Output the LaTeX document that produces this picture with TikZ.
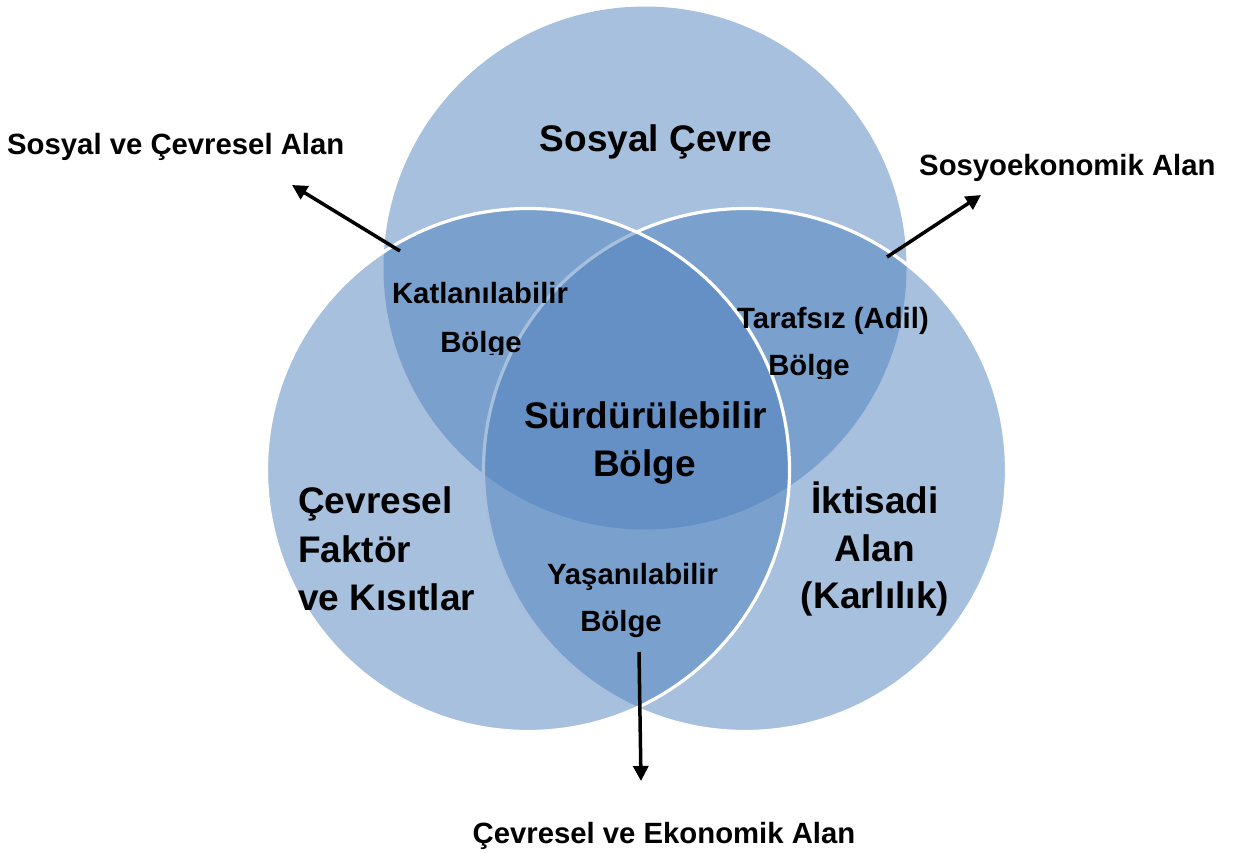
\documentclass[tikz,border=0pt]{standalone}
\usepackage{fontspec}
\setmainfont{Liberation Sans}
\usetikzlibrary{arrows.meta}
\definecolor{vennblue}{RGB}{79,129,189}
\begin{document}
\begin{tikzpicture}[x=1pt,y=-1pt,
  venn/.style={circle,inner sep=0pt,outer sep=0pt,minimum size=523pt,
    fill=vennblue,fill opacity=0.5},
  vennrim/.style={venn,draw=white,draw opacity=1,line width=3.2pt},
  big/.style={inner sep=0pt,font=\fontsize{37}{44}\selectfont\bfseries,anchor=base},
  small/.style={inner sep=0pt,font=\fontsize{29.3}{35}\selectfont\bfseries,anchor=base},
  pointer/.style={line width=3.5pt,-{Triangle[length=15pt,width=15pt]}}]
  \useasboundingbox (0,0) rectangle (1239,853);

  % three overlapping circles: upper first, then right, then left on top
  \node[venn]    (sosyal)  at (645,268) {};
  \node[vennrim] (iktisat) at (745,470) {};
  \node[vennrim] (cevre)   at (528,470) {};

  % region labels
  \node[big] (scv)  at (656,152) {Sosyal Çevre};
  \node[big] (sb1)  at (645.5,428) {Sürdürülebilir};
  \node[big] (sb2)  at (644.5,476) {Bölge};
  \node[big,anchor=base west] (cf1) at (298,513) {Çevresel};
  \node[big,anchor=base west] (cf2) at (298,562) {Faktör};
  \node[big,anchor=base west] (cf3) at (298,610) {ve Kısıtlar};
  \node[big] (ia1) at (875,513) {İktisadi};
  \node[big] (ia2) at (875,561) {Alan};
  \node[big] (ia3) at (875,608) {(Karlılık)};

  \node[small] (kb1) at (480,303) {Katlanılabilir};
  \begin{scope}
    \clip (400,320) rectangle (560,354);
    \node[small] (kb2) at (481,352) {Bölge};
  \end{scope}
  \node[small] (tb1) at (833,328) {Tarafsız (Adil)};
  \begin{scope}
    \clip (740,340) rectangle (880,378);
    \node[small] (tb2) at (809,375) {Bölge};
  \end{scope}
  \node[small] (yb1) at (632.5,584) {Yaşanılabilir};
  \node[small] (yb2) at (621,631) {Bölge};

  % outer labels
  \node[small,anchor=base west] (sca) at (7,155) {Sosyal ve Çevresel Alan};
  \node[small,anchor=base west] (sea) at (919,176) {Sosyoekonomik Alan};
  \node[small] (cea) at (664,843) {Çevresel ve Ekonomik Alan};

  % pointers from the pairwise overlaps to their names
  \coordinate (p1) at (400,251);
  \coordinate (q1) at (292,185);
  \coordinate (p2) at (887,257);
  \coordinate (q2) at (981,195);
  \coordinate (p3) at (639,652);
  \coordinate (q3) at (641,781);
  \draw[pointer] (p1) -- (q1);
  \draw[pointer] (p2) -- (q2);
  \draw[pointer] (p3) -- (q3);
\end{tikzpicture}
\end{document}
